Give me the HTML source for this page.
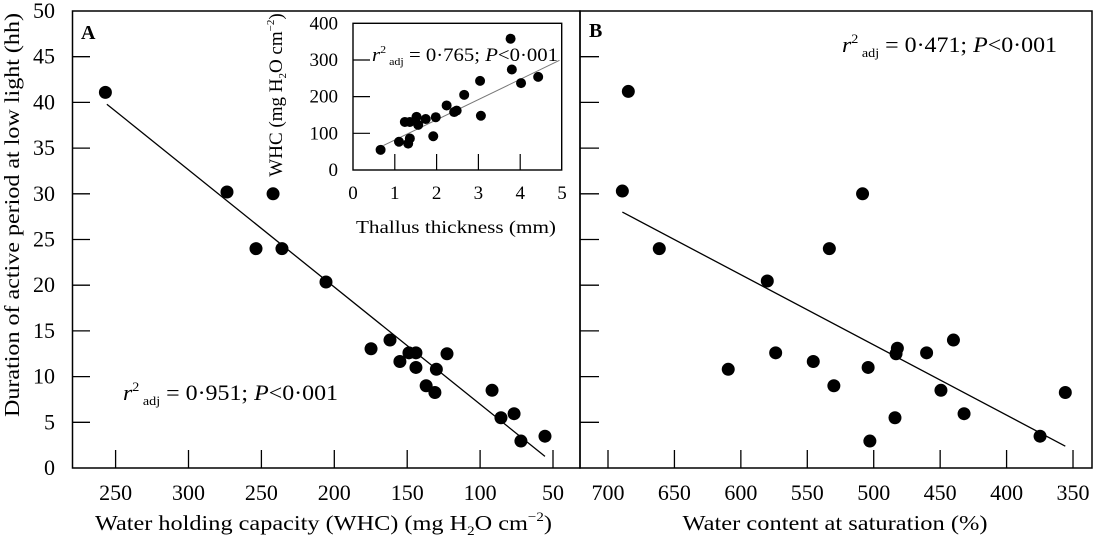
<!DOCTYPE html>
<html><head><meta charset="utf-8"><style>
html,body{margin:0;padding:0;background:#fff}
svg{display:block;font-family:"Liberation Serif",serif}
</style></head><body>
<svg id="c" width="1095" height="536" viewBox="0 0 1095 536" xmlns="http://www.w3.org/2000/svg">
<rect x="0" y="0" width="1095" height="536" fill="#fff"/>
</svg>
<script>
// Panel A data: WHC vs duration
const aWHC = [357,273.6,242,253.7,235.9,205.7,174.8,161.8,155,148.8,144,144,137,131,130,122.7,91.8,85.7,76.7,72,55.5];
const aDur = [41.1,30.2,30.0,24.0,24.0,20.35,13.05,14.0,11.65,12.6,12.6,11.0,9.0,8.26,10.8,12.5,8.5,5.5,5.94,2.95,3.48];
const aFitX = [356,55.5];
const aFitY = [39.8,1.27];
const aXTicks = [350,300,250,200,150,100,50];
const aXTickLabels = ["250","300","250","200","150","100","50"];
const yTicks = [0,5,10,15,20,25,30,35,40,45,50];
// Panel B data
const bWC = [684.7,689.2,661.4,580.1,609.5,573.8,545.5,533.4,530,508.4,504.2,502.9,484,482.2,483.2,460.2,449.4,440,432,374.8,355.8];
const bDur = [41.2,30.3,24.0,20.46,10.8,12.6,11.65,24.0,9.0,30.0,11.0,2.95,5.5,13.1,12.5,12.6,8.5,14.0,5.94,3.48,8.26];
const bFitX = [689.2,355.8];
const bFitY = [28.0,2.39];
const bXTicks = [700,650,600,550,500,450,400,350];
// Inset data
const iThk = [0.66,1.10,1.32,1.36,1.24,1.36,1.52,1.56,1.74,1.98,1.92,2.24,2.42,2.48,2.66,3.04,3.06,3.77,3.80,4.02,4.43];
const iWHC = [55,77,72,86,131,131,145,123,139,144,92,176,158,162,205,243,148,358,274,237,254];
const iFitX = [0.73,4.94];
const iFitY = [67,299];
const iXTicks = [0,1,2,3,4,5];
const iYTicks = [0,100,200,300,400];

const NS="http://www.w3.org/2000/svg";
const svg=document.getElementById('c');
function mk(tag,attrs,parent){const e=document.createElementNS(NS,tag);for(const k in attrs)e.setAttribute(k,attrs[k]);(parent||svg).appendChild(e);return e;}
const yS=v=>468-v*9.14;
const axS=v=>553-(v-50)*1.458;
const bxS=v=>608+(700-v)*1.3286;
const ixS=v=>353+v*41.8;
const iyS=v=>170-v*0.3667;

let f=mk('rect',{x:72.5,y:11,width:507.5,height:457,fill:'none',stroke:'#000','stroke-width':1.5});


f=mk('rect',{x:580,y:11,width:512,height:457,fill:'none',stroke:'#000','stroke-width':1.5});



yTicks.forEach(v=>{
  const y=yS(v);
  if(v>0&&v<50){
    let t=mk('line',{x1:72.5,x2:90,y1:y,y2:y,stroke:'#000','stroke-width':1.3});
    
    
    t=mk('line',{x1:580,x2:599,y1:y,y2:y,stroke:'#000','stroke-width':1.3});
    
    
  }
  const l=mk('text',{x:55,y:y+7,'text-anchor':'end','font-size':22});
  l.textContent=v;
  
  
});
aXTicks.forEach((v,i)=>{
  const x=axS(v);
  const t=mk('line',{x1:x,x2:x,y1:468,y2:450,stroke:'#000','stroke-width':1.3});
  
  
  const l=mk('text',{x:x,y:500,'text-anchor':'middle','font-size':22});
  l.textContent=aXTickLabels[i];
  
  
});
bXTicks.forEach(v=>{
  const x=bxS(v);
  const t=mk('line',{x1:x,x2:x,y1:468,y2:450,stroke:'#000','stroke-width':1.3});
  
  
  const l=mk('text',{x:x,y:500,'text-anchor':'middle','font-size':22});
  l.textContent=v;
  
  
});
let ln=mk('line',{x1:axS(aFitX[0]),y1:yS(aFitY[0]),x2:axS(aFitX[1]),y2:yS(aFitY[1]),stroke:'#000','stroke-width':1.3});


ln=mk('line',{x1:bxS(bFitX[0]),y1:yS(bFitY[0]),x2:bxS(bFitX[1]),y2:yS(bFitY[1]),stroke:'#000','stroke-width':1.3});


aWHC.forEach((v,i)=>{
  const c=mk('circle',{cx:axS(v),cy:yS(aDur[i]),r:6.5,fill:'#000'});
  
  
});
bWC.forEach((v,i)=>{
  const c=mk('circle',{cx:bxS(v),cy:yS(bDur[i]),r:6.5,fill:'#000'});
  
  
});
f=mk('rect',{x:353,y:23.3,width:208.7,height:146.7,fill:'#fff',stroke:'#000','stroke-width':1.4});


iYTicks.forEach(v=>{
  const y=iyS(v);
  if(v>0&&v<400){
    const t=mk('line',{x1:353,x2:370,y1:y,y2:y,stroke:'#000','stroke-width':1.2});
    
    
  }
  const l=mk('text',{x:338,y:y+6,'text-anchor':'end','font-size':19});
  l.textContent=v;
  
  
});
iXTicks.forEach(v=>{
  const x=ixS(v);
  if(v>0&&v<5){
    const t=mk('line',{x1:x,x2:x,y1:170,y2:154,stroke:'#000','stroke-width':1.2});
    
    
  }
  const l=mk('text',{x:x,y:199,'text-anchor':'middle','font-size':19});
  l.textContent=v;
  
  
});
ln=mk('line',{x1:ixS(iFitX[0]),y1:iyS(iFitY[0]),x2:ixS(iFitX[1]),y2:iyS(iFitY[1]),stroke:'#777','stroke-width':1});


iThk.forEach((v,i)=>{
  const c=mk('circle',{cx:ixS(v),cy:iyS(iWHC[i]),r:5,fill:'#000'});
  
  
});
</script>
<script>
(function(){
const NS="http://www.w3.org/2000/svg";const svg=document.getElementById('c');
function txt(html,attrs,name){const e=document.createElementNS(NS,'text');for(const k in attrs)e.setAttribute(k,attrs[k]);e.innerHTML=html;svg.appendChild(e);


return e;}
txt('A',{x:81,y:39,'font-size':20,'font-weight':'bold'},'panel-a-label');
txt('B',{x:589,y:37,'font-size':20,'font-weight':'bold'},'panel-b-label');
txt('<tspan font-style="italic">r</tspan><tspan dy="-9" font-size="13">2</tspan><tspan dy="14" font-size="13"> adj</tspan><tspan dy="-5"> = 0·951; </tspan><tspan font-style="italic">P</tspan>&lt;0·001',{x:123,y:400,'font-size':22,textLength:215,lengthAdjust:'spacingAndGlyphs'},'r2-annotation-a');
txt('<tspan font-style="italic">r</tspan><tspan dy="-9" font-size="13">2</tspan><tspan dy="14" font-size="13"> adj</tspan><tspan dy="-5"> = 0·471; </tspan><tspan font-style="italic">P</tspan>&lt;0·001',{x:842,y:52,'font-size':22,textLength:215,lengthAdjust:'spacingAndGlyphs'},'r2-annotation-b');
txt('<tspan font-style="italic">r</tspan><tspan dy="-8" font-size="11">2</tspan><tspan dy="12" font-size="11"> adj</tspan><tspan dy="-4"> = 0·765; </tspan><tspan font-style="italic">P</tspan>&lt;0·001',{x:372,y:61,'font-size':19,textLength:186,lengthAdjust:'spacingAndGlyphs'},'r2-annotation-inset');
txt('Duration of active period at low light (hh)',{x:0,y:0,'font-size':21,'text-anchor':'middle',transform:'translate(19,215) rotate(-90)',textLength:404,lengthAdjust:'spacingAndGlyphs'},'y-axis-title');
txt('Water holding capacity (WHC) (mg H<tspan font-size="13" dy="5">2</tspan><tspan dy="-5">O cm</tspan><tspan font-size="13" dy="-9">−2</tspan><tspan dy="9">)</tspan>',{x:95,y:530,'font-size':21,textLength:457,lengthAdjust:'spacingAndGlyphs'},'x-axis-title-a');
txt('Water content at saturation (%)',{x:835,y:530,'font-size':21,'text-anchor':'middle',textLength:305,lengthAdjust:'spacingAndGlyphs'},'x-axis-title-b');
txt('Thallus thickness (mm)',{x:456,y:233,'font-size':18,'text-anchor':'middle',textLength:200,lengthAdjust:'spacingAndGlyphs'},'inset-x-axis-title');
txt('WHC (mg H<tspan font-size="11" dy="4">2</tspan><tspan dy="-4">O cm</tspan><tspan font-size="11" dy="-8">−2</tspan><tspan dy="8">)</tspan>',{x:0,y:0,'font-size':19,'text-anchor':'middle',transform:'translate(282,95) rotate(-90)'},'inset-y-axis-title');
})();
</script>
</body></html>
